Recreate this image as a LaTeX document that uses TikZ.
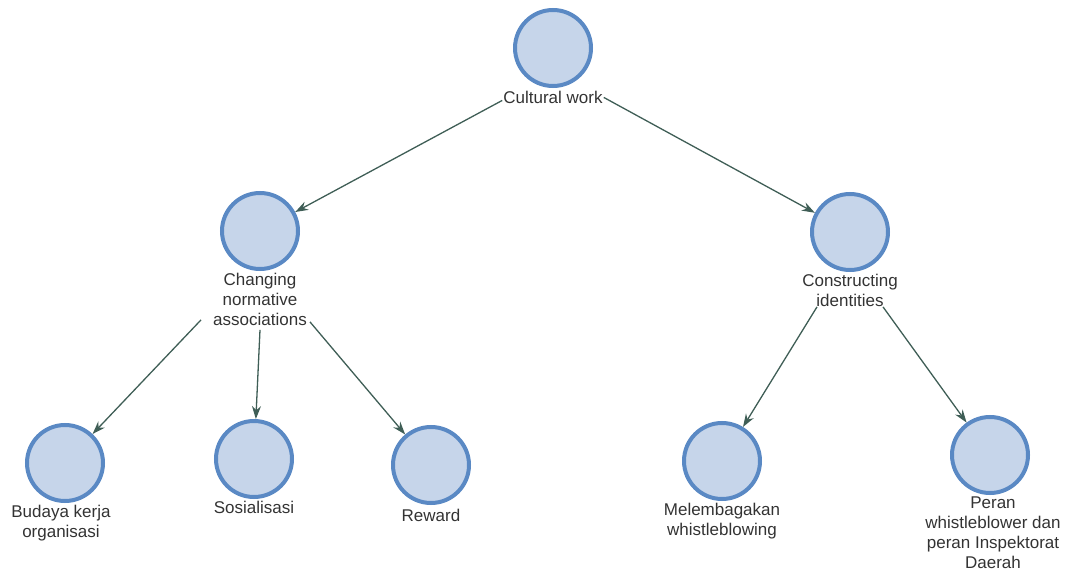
\documentclass[tikz,border=0pt]{standalone}
\usepackage{xcolor}
\usepackage{fontspec}
\setmainfont{Liberation Sans}
\usepackage{tikz}
\usetikzlibrary{positioning}
\usetikzlibrary{calc}
\usetikzlibrary{arrows.meta}
\definecolor{bord}{HTML}{5A89C4}
\definecolor{fond}{HTML}{C6D5EA}
\definecolor{fleche}{HTML}{3F5E56}
\definecolor{texte}{HTML}{333333}
\tikzset{
	rond/.style={circle,draw=bord,fill=fond,line width=4bp,minimum size=76bp,inner sep=0pt},
	etiq/.style={align=center,inner sep=0pt,text=texte,font=\fontsize{17bp}{20bp}\selectfont},
	lien/.style={draw=fleche,line width=1.3bp,-{Stealth[length=13bp,width=9bp]}}
}

\begin{document}
\begin{tikzpicture}[x=1bp,y=-1bp]
\useasboundingbox (0,0) rectangle (1073,583);

%Cercles
\node[rond] (cw) at (553,48) {};
\node[rond] (cn) at (260,231) {};
\node[rond] (ci) at (850,232) {};
\node[rond] (bk) at (65,463) {};
\node[rond] (so) at (254,459) {};
\node[rond] (rw) at (431,465) {};
\node[rond] (mw) at (722,461) {};
\node[rond] (pw) at (990,455) {};

%Etiquettes
\node[etiq,below=3bp of cw] (lcw) {Cultural work};
\node[etiq,below=2bp of cn] (lcn) {Changing\\normative\\associations};
\node[etiq,below=2bp of ci] (lci) {Constructing\\identities};
\node[etiq,below=2bp of bk,xshift=-4bp] (lbk) {Budaya kerja\\organisasi};
\node[etiq,below=2bp of so] (lso) {Sosialisasi};
\node[etiq,below=4bp of rw] (lrw) {Reward};
\node[etiq,below=2bp of mw] (lmw) {Melembagakan\\whistleblowing};
\node[etiq,below=2bp of pw,xshift=3bp] (lpw) {Peran\\whistleblower dan\\peran Inspektorat\\Daerah};

%Fleches
\draw[lien] ([xshift=-1bp,yshift=-3bp]lcw.west) -- (cn);
\draw[lien] ([xshift=1bp]lcw.east) -- (ci);
\draw[lien] ([xshift=-12bp,yshift=6bp]lcn.south west) -- (bk);
\draw[lien] ([yshift=-4bp]lcn.south) -- (so);
\draw[lien] ([xshift=3bp,yshift=4bp]lcn.south east) -- (rw);
\draw[lien] ([xshift=-33bp]lci.south) -- (mw);
\draw[lien] ([xshift=33bp]lci.south) -- (pw);

\end{tikzpicture}
\end{document}
